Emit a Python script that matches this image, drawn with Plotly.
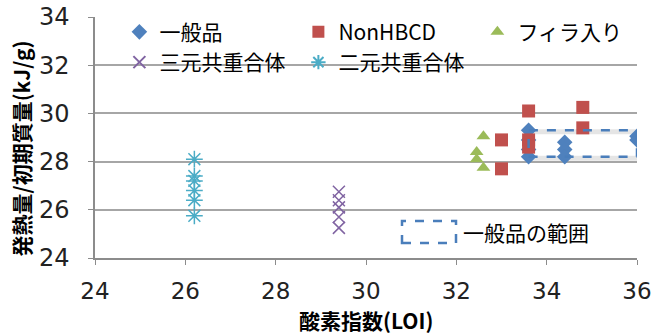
import plotly.graph_objects as go

# ---- data ----
general_x = [33.6, 33.6, 33.6, 33.6, 34.4, 34.4, 34.4, 36.0, 36.0]
general_y = [29.3, 28.9, 28.5, 28.2, 28.8, 28.5, 28.2, 29.05, 28.9]

nonhbcd_x = [33.0, 33.0, 33.6, 33.6, 33.6, 34.8, 34.8]
nonhbcd_y = [28.9, 27.7, 30.1, 28.9, 28.6, 30.25, 29.4]

filler_x = [32.6, 32.45, 32.45, 32.6]
filler_y = [29.05, 28.4, 28.1, 27.75]

ter_x = [29.4, 29.4, 29.4, 29.4, 29.4]
ter_y = [26.75, 26.4, 26.1, 25.7, 25.25]

bin_x = [26.2, 26.2, 26.2, 26.2, 26.2, 26.2]
bin_y = [28.1, 27.4, 27.2, 26.8, 26.4, 25.75]

range_x = [33.6, 36.0]
range_y = [28.2, 29.3]

x_ticks = [24, 26, 28, 30, 32, 34, 36]
y_ticks = [24, 26, 28, 30, 32, 34]

names = ["一般品", "NonHBCD", "フィラ入り", "三元共重合体", "二元共重合体"]
range_label = "一般品の範囲"
x_title = "酸素指数(LOI)"
y_title = "発熱量/初期質量(kJ/g)"

FONT = "DejaVu Sans, Noto Sans CJK JP, sans-serif"
CJK = "Noto Sans CJK JP, DejaVu Sans, sans-serif"

fig = go.Figure()

# dashed range rectangle (with soft shadow)
fig.add_shape(type="rect", x0=range_x[0] + 0.04, x1=range_x[1] + 0.04,
              y0=range_y[0] - 0.06, y1=range_y[1] - 0.06,
              line=dict(color="rgba(0,0,0,0.10)", width=5), layer="below")
fig.add_shape(type="rect", x0=range_x[0], x1=range_x[1], y0=range_y[0], y1=range_y[1],
              line=dict(color="#4a7ebb", width=2.5, dash="dash"), layer="above")

fig.add_trace(go.Scatter(x=general_x, y=general_y, mode="markers", name=names[0],
                         marker=dict(symbol="diamond", size=12, color="#4f81bd")))
fig.add_trace(go.Scatter(x=nonhbcd_x, y=nonhbcd_y, mode="markers", name=names[1],
                         marker=dict(symbol="square", size=13, color="#c0504d")))
fig.add_trace(go.Scatter(x=filler_x, y=filler_y, mode="markers", name=names[2],
                         marker=dict(symbol="triangle-up", size=12, color="#9bbb59")))
fig.add_trace(go.Scatter(x=ter_x, y=ter_y, mode="markers", name=names[3],
                         marker=dict(symbol="x-thin", size=12, color="#8064a2",
                                     line=dict(color="#8064a2", width=1.5))))
fig.add_trace(go.Scatter(x=bin_x, y=bin_y, mode="markers", name=names[4],
                         marker=dict(symbol="asterisk-open", size=14, color="#4bacc6",
                                     line=dict(color="#4bacc6", width=1.5))))

# legend key for range box (paper coords)
fig.add_shape(type="rect", xref="paper", yref="paper",
              x0=(402 - 95) / 542, x1=(456 - 95) / 542,
              y0=(258 - 243) / 241, y1=(258 - 221) / 241,
              line=dict(color="#4a7ebb", width=2.5, dash="dash"))
fig.add_annotation(xref="paper", yref="paper", x=(461 - 95) / 542, y=(258 - 232) / 241,
                   xanchor="left", yanchor="middle", text=range_label, showarrow=False,
                   font=dict(family=CJK, size=21, color="#000"))

# axis titles
fig.add_annotation(xref="paper", yref="paper", x=0.5, y=0, yshift=-62,
                   xanchor="center", yanchor="middle", text="<b>" + x_title + "</b>",
                   showarrow=False, font=dict(family=CJK, size=21, color="#000"))
fig.add_annotation(xref="paper", yref="paper", x=0, y=0.5, xshift=-75, yshift=-11,
                   xanchor="center", yanchor="middle", text="<b>" + y_title + "</b>",
                   textangle=-90, showarrow=False, font=dict(family=CJK, size=21, color="#000"))

fig.update_xaxes(range=[24, 36], tickvals=x_ticks, showgrid=False, zeroline=False,
                 showline=True, linecolor="#8c8c8c", linewidth=1.5,
                 ticks="outside", ticklen=5, tickcolor="#8c8c8c",
                 ticklabelstandoff=7,
                 tickfont=dict(family=FONT, size=23, color="#222"))
fig.update_yaxes(range=[24, 34], tickvals=y_ticks, showgrid=True, gridcolor="#a6a6a6",
                 gridwidth=1.5, zeroline=False,
                 showline=True, linecolor="#8c8c8c", linewidth=1.5,
                 ticks="outside", ticklen=5, tickcolor="#8c8c8c",
                 ticklabelstandoff=14,
                 tickfont=dict(family=FONT, size=24, color="#222"))

fig.update_layout(
    width=670, height=336,
    margin=dict(l=95, r=33, t=17, b=78, autoexpand=False),
    plot_bgcolor="white", paper_bgcolor="white",
    showlegend=True,
    legend=dict(orientation="h", x=0.045, y=1.022, xanchor="left", yanchor="top",
                entrywidth=134, entrywidthmode="pixels",
                bgcolor="rgba(0,0,0,0)", itemsizing="constant",
                tracegroupgap=0,
                font=dict(family=CJK, size=21, color="#000")),
)

fig.write_html("out.html")
